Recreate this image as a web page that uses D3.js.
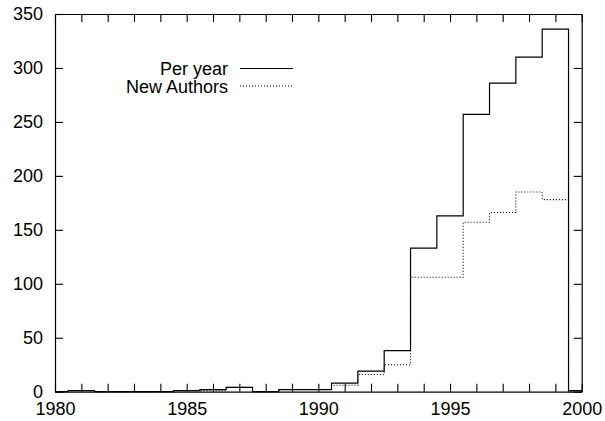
<!DOCTYPE html>
<html>
<head>
<meta charset="utf-8">
<script src="https://cdn.jsdelivr.net/npm/d3@7"></script>
<style>
  body { margin: 0; background: white; }
  svg { display: block; font-family: "Liberation Sans", Arial, Helvetica, sans-serif; }
</style>
</head>
<body>
<div id="chart"></div>
<script>
// data
var years = d3.range(1980, 2001);
var perYear =    [0, 1, 0, 0, 0, 1, 2, 4, 0, 2, 2, 8, 19, 38, 133, 163, 257, 286, 310, 336, 1];
var newAuthors = [0, 1, 0, 0, 0, 1, 1, 4, 0, 2, 2, 6, 16, 25, 106, 106, 157, 166, 185, 178, 0];
var xTicks = years;
var xLabels = [1980, 1985, 1990, 1995, 2000];
var yTicks = [0, 50, 100, 150, 200, 250, 300, 350];
var seriesNames = ['Per year', 'New Authors'];

var model = {
  width: 605,
  height: 421,
  left: 55,
  right: 581.7,
  top: 14,
  bottom: 391.7
};

var x = d3.scaleLinear().domain([1980, 2000]).range([model.left, model.right]);
var y = d3.scaleLinear().domain([0, 350]).range([model.bottom, model.top]);

var svg = d3.select('#chart').append('svg')
  .attr('width', model.width)
  .attr('height', model.height);

svg.append('defs').append('clipPath').attr('id', 'plotClip')
  .append('rect')
  .attr('x', model.left)
  .attr('y', model.top - 1)
  .attr('width', model.right - model.left)
  .attr('height', model.bottom - model.top + 2);

// histogram steps, each value centred on its year
function histeps(values) {
  var pts = [[years[0] - 0.5, 0]];
  values.forEach(function (v, i) {
    pts.push([years[i] - 0.5, v]);
    pts.push([years[i] + 0.5, v]);
  });
  pts.push([years[years.length - 1] + 0.5, 0]);
  return pts;
}

var line = d3.line()
  .x(function (d) { return x(d[0]); })
  .y(function (d) { return y(d[1]); });

var plot = svg.append('g').attr('clip-path', 'url(#plotClip)');

plot.append('path')
  .attr('d', line(histeps(newAuthors)))
  .attr('fill', 'none')
  .attr('stroke', '#000')
  .attr('stroke-width', 1.1)
  .attr('stroke-dasharray', '1,2');

plot.append('path')
  .attr('d', line(histeps(perYear)))
  .attr('fill', 'none')
  .attr('stroke', '#000')
  .attr('stroke-width', 1.2);

// axes, ticks pointing inward on all four sides
function styleAxis(g) {
  g.selectAll('.domain').attr('stroke', '#000').attr('stroke-width', 1.2);
  g.selectAll('.tick line').attr('stroke', '#000').attr('stroke-width', 1.1);
  g.selectAll('.tick text').attr('fill', '#000').style('font-size', '18px');
}

svg.append('g')
  .attr('transform', 'translate(0,' + model.bottom + ')')
  .call(d3.axisBottom(x).tickValues(xTicks).tickSize(-8).tickSizeOuter(0).tickPadding(11)
    .tickFormat(function (d) { return xLabels.indexOf(d) >= 0 ? d : ''; }))
  .call(styleAxis);

svg.append('g')
  .attr('transform', 'translate(0,' + model.top + ')')
  .call(d3.axisTop(x).tickValues(xTicks).tickSize(-8).tickSizeOuter(0).tickFormat(''))
  .call(styleAxis);

svg.append('g')
  .attr('transform', 'translate(' + model.left + ',0)')
  .call(d3.axisLeft(y).tickValues(yTicks).tickSize(-8).tickSizeOuter(0).tickPadding(12))
  .call(styleAxis);

svg.append('g')
  .attr('transform', 'translate(' + model.right + ',0)')
  .call(d3.axisRight(y).tickValues(yTicks).tickSize(-8).tickSizeOuter(0).tickFormat(''))
  .call(styleAxis);

svg.selectAll('.tick text').attr('font-family', null);
svg.selectAll('g').attr('font-family', null);

// legend
var legend = svg.append('g');
var legendRows = legend.selectAll('g').data(seriesNames).join('g')
  .attr('transform', function (d, i) { return 'translate(0,' + (75 + i * 17.5) + ')'; });

legendRows.append('text')
  .attr('x', 228)
  .attr('text-anchor', 'end')
  .style('font-size', '18px')
  .text(function (d) { return d; });

legendRows.append('line')
  .attr('x1', 240)
  .attr('x2', 293)
  .attr('y1', -6.5)
  .attr('y2', -6.5)
  .attr('stroke', '#000')
  .attr('stroke-width', function (d, i) { return i === 0 ? 1.2 : 1.1; })
  .attr('stroke-dasharray', function (d, i) { return i === 0 ? null : '1,2'; });
</script>
</body>
</html>
